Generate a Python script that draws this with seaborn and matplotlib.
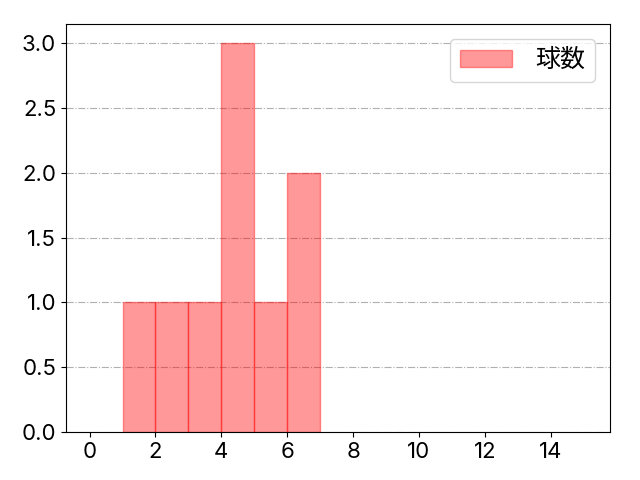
import numpy as np
import pandas as pd
import matplotlib
matplotlib.use('Agg')
import matplotlib.pyplot as plt
import seaborn as sns

# bin left edges (width 1) and the count in each bin
bin_left = [1, 2, 3, 4, 5, 6]
counts = [1, 1, 1, 3, 1, 2]
label = '球数'

sns.set_style('ticks')
plt.rcParams['font.family'] = ['Inter', 'Noto Sans CJK JP', 'DejaVu Sans']
plt.rcParams['font.size'] = 16
plt.rcParams['text.color'] = 'black'
plt.rcParams['xtick.color'] = 'black'
plt.rcParams['ytick.color'] = 'black'
plt.rcParams['axes.edgecolor'] = 'black'
plt.rcParams['xtick.major.size'] = 3.5
plt.rcParams['ytick.major.size'] = 3.5

df = pd.DataFrame({'x': bin_left, 'w': counts})

fig, ax = plt.subplots(figsize=(6.4, 4.8), dpi=100)
sns.histplot(data=df, x='x', weights='w', bins=6, binrange=(1, 7),
             color='red', linewidth=1, label=label, ax=ax)
# fill and edge both translucent, like plt.hist(alpha=0.4)
for p in ax.patches:
    p.set_facecolor('red')
    p.set_edgecolor('red')
    p.set_alpha(0.4)

ax.set_xlabel('')
ax.set_ylabel('')
ax.set_xlim(-0.72, 15.8)
ax.set_ylim(0, 3.15)
ax.set_xticks(np.arange(0, 15, 2))
ax.set_yticks(np.arange(0, 3.01, 0.5))
ax.tick_params(labelsize=16, colors='black')
ax.grid(axis='y', linestyle='-.', color='#b0b0b0', linewidth=0.8)
ax.grid(axis='x', visible=False)
for s in ax.spines.values():
    s.set_visible(True)
    s.set_color('black')

leg = ax.legend(loc='upper right', fontsize=18, borderaxespad=0.6,
                handlelength=2.1, handletextpad=0.9)
fig.subplots_adjust(left=0.103, right=0.953, top=0.95, bottom=0.1)
fig.savefig('out.png', dpi=100)
